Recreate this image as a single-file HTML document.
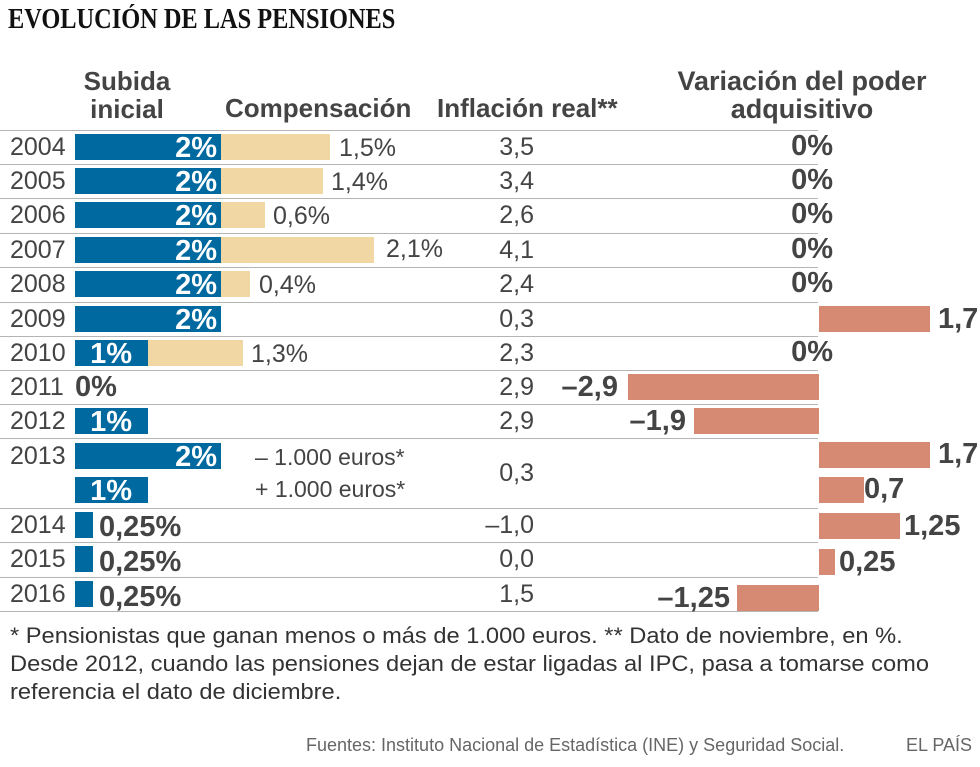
<!DOCTYPE html>
<html><head><meta charset="utf-8"><style>
body{margin:0;background:#fff;width:980px;height:767px;position:relative;overflow:hidden;font-family:"Liberation Sans",sans-serif;color:#444}
div{position:absolute;white-space:nowrap}
.h{font-weight:bold;font-size:26px;color:#444;line-height:28px}
.ln{left:0;width:818px;height:0;border-top:1.5px solid #b4b4b4}
.t{height:34px;line-height:34px;font-size:25px}
.b{font-weight:bold;font-size:29px!important}
.bl{background:#006aa0;height:26px}
.be{background:#f0d7a3;height:26px}
.sa{background:#d68a73;height:26px}
.w{color:#fff;font-weight:bold;font-size:29px;text-align:right;height:26px;line-height:28px;overflow:visible}
</style></head><body>
<div style="left:8px;top:4px;font-family:'Liberation Serif',serif;font-weight:bold;font-size:28px;color:#111;transform:scaleX(0.87);transform-origin:0 0">EVOLUCIÓN DE LAS PENSIONES</div>
<div class="h" style="left:70px;width:114px;text-align:center;top:67px">Subida<br>inicial</div>
<div class="h" style="left:225px;top:94px">Compensación</div>
<div class="h" style="left:437px;top:94px">Inflación real**</div>
<div class="h" style="left:667px;width:270px;text-align:center;top:67px;font-size:27px">Variación del poder<br>adquisitivo</div>

<div class="ln" style="top:130px"></div><div class="ln" style="top:164px"></div><div class="ln" style="top:198px"></div><div class="ln" style="top:233px"></div><div class="ln" style="top:267px"></div><div class="ln" style="top:302px"></div><div class="ln" style="top:336px"></div><div class="ln" style="top:370px"></div><div class="ln" style="top:404px"></div><div class="ln" style="top:438px"></div><div class="ln" style="top:508px"></div><div class="ln" style="top:542px"></div><div class="ln" style="top:577px"></div><div class="ln" style="top:611px"></div>

<div class="t" style="left:10px;top:130px">2004</div>
<div class="t" style="left:10px;top:164px">2005</div>
<div class="t" style="left:10px;top:198px">2006</div>
<div class="t" style="left:10px;top:233px">2007</div>
<div class="t" style="left:10px;top:267px">2008</div>
<div class="t" style="left:10px;top:302px">2009</div>
<div class="t" style="left:10px;top:336px">2010</div>
<div class="t" style="left:10px;top:370px">2011</div>
<div class="t" style="left:10px;top:404px">2012</div>
<div class="t" style="left:10px;top:439px">2013</div>
<div class="t" style="left:10px;top:508px">2014</div>
<div class="t" style="left:10px;top:542px">2015</div>
<div class="t" style="left:10px;top:577px">2016</div>

<div class="bl w" style="left:75px;top:134px;width:146px"><span style="padding-right:4px">2%</span></div>
<div class="bl w" style="left:75px;top:168px;width:146px"><span style="padding-right:4px">2%</span></div>
<div class="bl w" style="left:75px;top:202px;width:146px"><span style="padding-right:4px">2%</span></div>
<div class="bl w" style="left:75px;top:237px;width:146px"><span style="padding-right:4px">2%</span></div>
<div class="bl w" style="left:75px;top:271px;width:146px"><span style="padding-right:4px">2%</span></div>
<div class="bl w" style="left:75px;top:306px;width:146px"><span style="padding-right:4px">2%</span></div>
<div class="bl w" style="left:75px;top:340px;width:73px"><span style="padding-right:16px">1%</span></div>
<div class="t b" style="left:75px;top:370px">0%</div>
<div class="bl w" style="left:75px;top:408px;width:73px"><span style="padding-right:16px">1%</span></div>
<div class="bl w" style="left:75px;top:443px;width:146px"><span style="padding-right:4px">2%</span></div>
<div class="bl w" style="left:75px;top:477px;width:73px"><span style="padding-right:16px">1%</span></div>
<div class="bl" style="left:75px;top:512px;width:18px"></div>
<div class="bl" style="left:75px;top:546px;width:18px"></div>
<div class="bl" style="left:75px;top:581px;width:18px"></div>
<div class="t b" style="left:99px;top:510px">0,25%</div>
<div class="t b" style="left:99px;top:545px">0,25%</div>
<div class="t b" style="left:99px;top:580px">0,25%</div>

<div class="be" style="left:221px;top:134px;width:109px"></div><div class="t" style="left:339px;top:131px">1,5%</div>
<div class="be" style="left:221px;top:168px;width:102px"></div><div class="t" style="left:331px;top:165px">1,4%</div>
<div class="be" style="left:221px;top:202px;width:44px"></div><div class="t" style="left:273px;top:199px">0,6%</div>
<div class="be" style="left:221px;top:237px;width:153px"></div><div class="t" style="left:386px;top:232px">2,1%</div>
<div class="be" style="left:221px;top:271px;width:29px"></div><div class="t" style="left:259px;top:268px">0,4%</div>
<div class="be" style="left:148px;top:340px;width:95px"></div><div class="t" style="left:251px;top:337px">1,3%</div>
<div class="t" style="left:255px;top:440px;font-size:23px">– 1.000 euros*</div>
<div class="t" style="left:255px;top:472px;font-size:23px">+ 1.000 euros*</div>

<div class="t" style="left:434px;width:100px;text-align:right;top:130px">3,5</div>
<div class="t" style="left:434px;width:100px;text-align:right;top:164px">3,4</div>
<div class="t" style="left:434px;width:100px;text-align:right;top:198px">2,6</div>
<div class="t" style="left:434px;width:100px;text-align:right;top:233px">4,1</div>
<div class="t" style="left:434px;width:100px;text-align:right;top:267px">2,4</div>
<div class="t" style="left:434px;width:100px;text-align:right;top:302px">0,3</div>
<div class="t" style="left:434px;width:100px;text-align:right;top:336px">2,3</div>
<div class="t" style="left:434px;width:100px;text-align:right;top:370px">2,9</div>
<div class="t" style="left:434px;width:100px;text-align:right;top:404px">2,9</div>
<div class="t" style="left:434px;width:100px;text-align:right;top:456px">0,3</div>
<div class="t" style="left:434px;width:100px;text-align:right;top:508px">–1,0</div>
<div class="t" style="left:434px;width:100px;text-align:right;top:542px">0,0</div>
<div class="t" style="left:434px;width:100px;text-align:right;top:577px">1,5</div>

<div class="t b" style="left:733px;width:100px;text-align:right;top:129px">0%</div>
<div class="t b" style="left:733px;width:100px;text-align:right;top:163px">0%</div>
<div class="t b" style="left:733px;width:100px;text-align:right;top:197px">0%</div>
<div class="t b" style="left:733px;width:100px;text-align:right;top:232px">0%</div>
<div class="t b" style="left:733px;width:100px;text-align:right;top:266px">0%</div>
<div class="t b" style="left:733px;width:100px;text-align:right;top:335px">0%</div>
<div class="sa" style="left:819px;top:306px;width:111px"></div><div class="t b" style="left:938px;top:302px">1,7</div>
<div class="sa" style="left:628px;top:374px;width:191px"></div><div class="t b" style="left:500px;width:118px;text-align:right;top:370px">–2,9</div>
<div class="sa" style="left:694px;top:408px;width:125px"></div><div class="t b" style="left:560px;width:126px;text-align:right;top:404px">–1,9</div>
<div class="sa" style="left:819px;top:442px;width:111px"></div><div class="t b" style="left:938px;top:437px">1,7</div>
<div class="sa" style="left:819px;top:477px;width:45px"></div><div class="t b" style="left:864px;top:472px">0,7</div>
<div class="sa" style="left:819px;top:513px;width:81px"></div><div class="t b" style="left:904px;top:509px">1,25</div>
<div class="sa" style="left:819px;top:549px;width:16px"></div><div class="t b" style="left:839px;top:545px">0,25</div>
<div class="sa" style="left:737px;top:585px;width:82px"></div><div class="t b" style="left:600px;width:130px;text-align:right;top:581px">–1,25</div>

<div style="left:10px;top:622px;font-size:22px;line-height:28px;color:#333;transform:scaleX(1.075);transform-origin:0 0">* Pensionistas que ganan menos o más de 1.000 euros. ** Dato de noviembre, en %.<br>Desde 2012, cuando las pensiones dejan de estar ligadas al IPC, pasa a tomarse como<br>referencia el dato de diciembre.</div>
<div style="left:306px;top:735px;font-size:18px;color:#666">Fuentes: Instituto Nacional de Estadística (INE) y Seguridad Social.</div>
<div style="left:906px;top:735px;font-size:18px;color:#666">EL PAÍS</div>
</body></html>
